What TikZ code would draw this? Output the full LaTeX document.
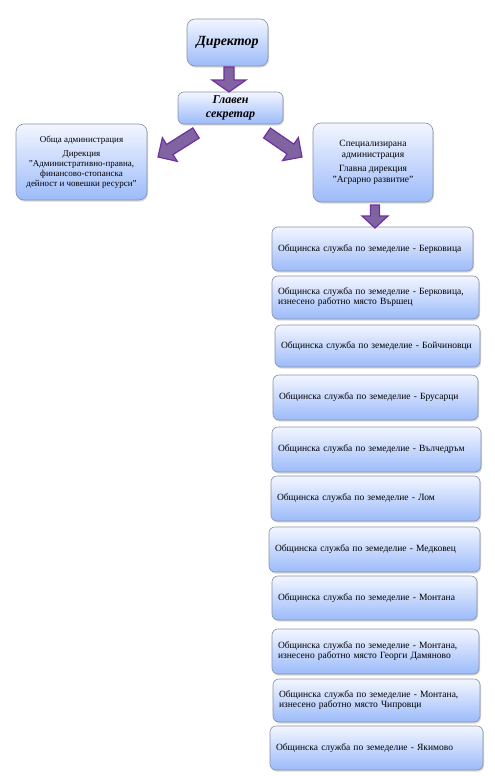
\documentclass[tikz,border=0pt]{standalone}
\usepackage{fontspec}
\setmainfont{Liberation Serif}
\usetikzlibrary{calc,shadows}
\definecolor{boxtop}{RGB}{243,246,255}
\definecolor{boxbot}{RGB}{156,187,250}
\definecolor{boxline}{RGB}{135,145,165}
\definecolor{arrfill}{RGB}{128,100,162}
\definecolor{arrline}{RGB}{112,48,160}
\tikzset{
  orgbox/.style={draw=boxline, line width=0.6pt, rounded corners=8pt,
    top color=boxtop, bottom color=boxbot,
    drop shadow={opacity=0.3, shadow xshift=1pt, shadow yshift=-1.6pt},
    inner sep=0pt, align=center},
  unitbox/.style={orgbox, rounded corners=6pt, inner xsep=6pt, inner ysep=0pt,
    font=\fontsize{9.5}{10}\selectfont, align=left},
  blockarrow/.style={fill=arrfill, draw=arrline, line width=1.2pt, line join=miter},
}
% #1 start, #2 tip, #3 shaft half width, #4 head half width, #5 head length
\newcommand\blockarr[5]{%
  \coordinate (ba-h) at ($(#2)!#5!(#1)$);
  \draw[blockarrow]
    ($(#1)!#3!90:(#2)$) -- ($(ba-h)!#3!90:(#2)$) -- ($(ba-h)!#4!90:(#2)$)
    -- (#2)
    -- ($(ba-h)!#4!-90:(#2)$) -- ($(ba-h)!#3!-90:(#2)$) -- ($(#1)!#3!-90:(#2)$) -- cycle;
}
\begin{document}
\begin{tikzpicture}[x=1pt,y=-1pt]
\useasboundingbox (0,0) rectangle (495,776);

\node[orgbox, minimum width=81pt, minimum height=47pt,
  font=\fontsize{14}{16}\selectfont\bfseries\itshape] (dir) at (227.5,42.5) {Директор};
\node[orgbox, rounded corners=6pt, minimum width=105pt, minimum height=32pt,
  font=\fontsize{12}{14}\selectfont\bfseries\itshape] (sec) at (230.5,108) {Главен\\секретар};
\node[orgbox, minimum width=131pt, minimum height=76pt,
  font=\fontsize{9}{10}\selectfont] (gen) at (81.5,162)
  {Обща администрация\\[4pt]Дирекция\\"Административно-правна,\\финансово-стопанска\\дейност и човешки ресурси"};
\node[orgbox, minimum width=120pt, minimum height=79pt,
  font=\fontsize{9.5}{10.5}\selectfont] (spec) at (373,162.5)
  {Специализирана\\администрация\\[4pt]Главна дирекция\\"Аграрно развитие"};

\node[unitbox, text width=189pt, minimum height=44pt] (u1) at (372.5,249) {Общинска служба по земеделие - Берковица};
\node[unitbox, text width=195pt, minimum height=43pt] (u2) at (375.5,297.5) {Общинска служба по земеделие - Берковица,\\изнесено работно място Вършец};
\node[unitbox, text width=193pt, minimum height=42pt] (u3) at (377.5,346) {Общинска служба по земеделие - Бойчиновци};
\node[unitbox, text width=193pt, minimum height=45pt] (u4) at (375.5,397.5) {Общинска служба по земеделие - Брусарци};
\node[unitbox, text width=197pt, minimum height=45pt] (u5) at (376.5,449.5) {Общинска служба по земеделие - Вълчедръм};
\node[unitbox, text width=197pt, minimum height=45pt] (u6) at (375.5,498.5) {Общинска служба по земеделие - Лом};
\node[unitbox, text width=199pt, minimum height=45pt] (u7) at (374.5,549.5) {Общинска служба по земеделие - Медковец};
\node[unitbox, text width=193pt, minimum height=44pt] (u8) at (374.5,598) {Общинска служба по земеделие - Монтана};
\node[unitbox, text width=195pt, minimum height=45pt] (u9) at (375.5,651.5) {Общинска служба по земеделие - Монтана,\\изнесено работно място Георги Дамяново};
\node[unitbox, text width=195pt, minimum height=43pt] (u10) at (376.5,700.5) {Общинска служба по земеделие - Монтана,\\изнесено работно място Чипровци};
\node[unitbox, text width=201pt, minimum height=44pt] (u11) at (376.5,748) {Общинска служба по земеделие - Якимово};

\coordinate (a1s) at (229,67);  \coordinate (a1t) at (229,92);
\coordinate (a2s) at (196,133); \coordinate (a2t) at (158,157);
\coordinate (a3s) at (267,133); \coordinate (a3t) at (302,157);
\coordinate (a4s) at (375,205); \coordinate (a4t) at (375,228);
\blockarr{a1s}{a1t}{5pt}{17pt}{12pt}
\blockarr{a2s}{a2t}{6pt}{14pt}{14pt}
\blockarr{a3s}{a3t}{6pt}{14pt}{14pt}
\blockarr{a4s}{a4t}{4.5pt}{13pt}{12pt}
\end{tikzpicture}
\end{document}
